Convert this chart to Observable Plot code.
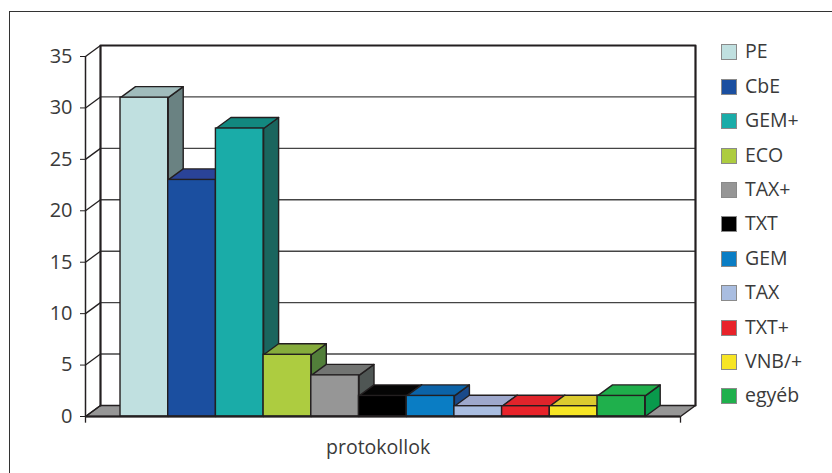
<!DOCTYPE html>
<html><head><meta charset="utf-8">
<script src="https://cdn.jsdelivr.net/npm/d3@7"></script>
<script src="https://cdn.jsdelivr.net/npm/@observablehq/plot@0.6"></script>
<style>
body{margin:0;background:#fff;}
#wrap{position:relative;width:832px;height:473px;overflow:hidden;font-family:"Open Sans",sans-serif;color:#3a3a3a;}
#frame{position:absolute;left:9px;top:11px;width:1000px;height:1000px;border:1.5px solid #333;box-sizing:border-box;}
#chart{position:absolute;left:0;top:0;}
#legend{position:absolute;left:721px;top:0;}
.item{position:absolute;left:0;white-space:nowrap;height:20px;}
.sw{position:absolute;left:0;top:2px;width:16px;height:16px;border:1px solid #8a8a8a;box-sizing:border-box;}
.lb{position:absolute;left:24px;top:-4px;font-size:19.5px;line-height:26px;}
</style></head>
<body>
<div id="wrap"><div id="frame"></div><div id="chart"></div><div id="legend"></div></div>
<script>
const categories = ["PE","CbE","GEM+","ECO","TAX+","TXT","GEM","TAX","TXT+","VNB/+","egyéb"];
const values = [31,23,28,6,4,2,2,1,1,1,2];
const frontColors = ["#c0e0e0","#1b4fa0","#1aaca8","#adcc40","#969696","#000000","#0a7dc4","#a9bde0","#e8232a","#f7e525","#1fb04c"];
const topColors   = ["#a0bcbc","#2a4398","#12887f","#86ac3c","#727472","#050505","#0b63a8","#9ea8cc","#e0242b","#dccb2f","#1fae4b"];
const sideColors  = ["#6a8282","#203a80","#1a655e","#527f3a","#4f5654","#151515","#1a4a8a","#7f8aa8","#b01c22","#b8a82a","#099a4c"];
const yTicks = [0,5,10,15,20,25,30,35];
const xLabel = "protokollok";

// 3D geometry (in scale units)
const XMIN = -0.734, XMAX = 11.74, DX = 0.3145, DY = 1.07;
const ink = "#231f20";

const poly = (pts) => pts.concat([pts[0]]).map(([x,y]) => ({x, y}));

const marks = [];
// floor
marks.push(Plot.line(poly([[XMIN,0],[XMAX,0],[XMAX+DX,DY],[XMIN+DX,DY]]), {x:"x", y:"y", fill:"#969696", stroke:ink, strokeWidth:1.5}));
// back wall gridlines
marks.push(Plot.ruleY(yTicks.filter(v => v>0 && v<35), {y: d => d+DY, x1: XMIN+DX, x2: XMAX+DX, stroke:"#444", strokeWidth:1.4}));
// back wall outline
marks.push(Plot.line([[XMIN+DX,DY],[XMIN+DX,35+DY],[XMAX+DX,35+DY],[XMAX+DX,DY]].map(([x,y])=>({x,y})), {x:"x", y:"y", stroke:ink, strokeWidth:2.2}));
// left wall diagonals
marks.push(Plot.link(yTicks, {x1: XMIN, y1: d => d, x2: XMIN+DX, y2: d => d+DY, stroke:ink, strokeWidth:1.3}));
// front axis line
marks.push(Plot.ruleX([XMIN], {y1:0, y2:35, stroke:ink, strokeWidth:1.5}));
// bars
categories.forEach((c, i) => {
  const v = values[i];
  marks.push(Plot.line(poly([[i+1,0],[i+1+DX,DY],[i+1+DX,v+DY],[i+1,v]]), {x:"x", y:"y", fill: sideColors[i], stroke:ink, strokeWidth:1.4}));
  marks.push(Plot.line(poly([[i,v],[i+1,v],[i+1+DX,v+DY],[i+DX,v+DY]]), {x:"x", y:"y", fill: topColors[i], stroke:ink, strokeWidth:1.4}));
  marks.push(Plot.rect([v], {x1: i, x2: i+1, y1: 0, y2: d => d, fill: frontColors[i], stroke: ink, strokeWidth:1.4}));
});
// floor front edge + end ticks
marks.push(Plot.ruleY([0], {x1: XMIN, x2: XMAX, stroke:ink, strokeWidth:1.8}));
marks.push(Plot.ruleX([XMIN, XMAX], {y1: 0, y2: -0.65, stroke:ink, strokeWidth:1.3}));
// y axis
marks.push(Plot.axisY(yTicks, {anchor:"left", tickSize:5, tickPadding:8, stroke:ink, fill:"#3a3a3a", label:null, fontSize: 20, tickFormat: d => String(d)}));
// x label
marks.push(Plot.text([xLabel], {x: 5.4, y: 0, dy: 31, text: d => d, fill:"#3a3a3a", fontSize: 19.5, textAnchor:"middle"}));

const plot = Plot.plot({
  width: 832, height: 473,
  marginLeft: 85, marginRight: 152, marginTop: 56, marginBottom: 57,
  x: {domain: [XMIN, XMAX], axis: null},
  y: {domain: [0, 35], axis: null},
  style: {fontFamily: '"Open Sans", sans-serif', fontSize: "20px", background: "transparent", overflow: "visible"},
  marks
});
document.getElementById("chart").appendChild(plot);

const legend = document.getElementById("legend");
categories.forEach((c, i) => {
  const it = document.createElement("div");
  it.className = "item";
  it.style.top = (52.3 + 34.4*i - 10) + "px";
  it.innerHTML = `<div class="sw" style="background:${frontColors[i]}"></div><div class="lb">${c}</div>`;
  legend.appendChild(it);
});
</script>
</body></html>
